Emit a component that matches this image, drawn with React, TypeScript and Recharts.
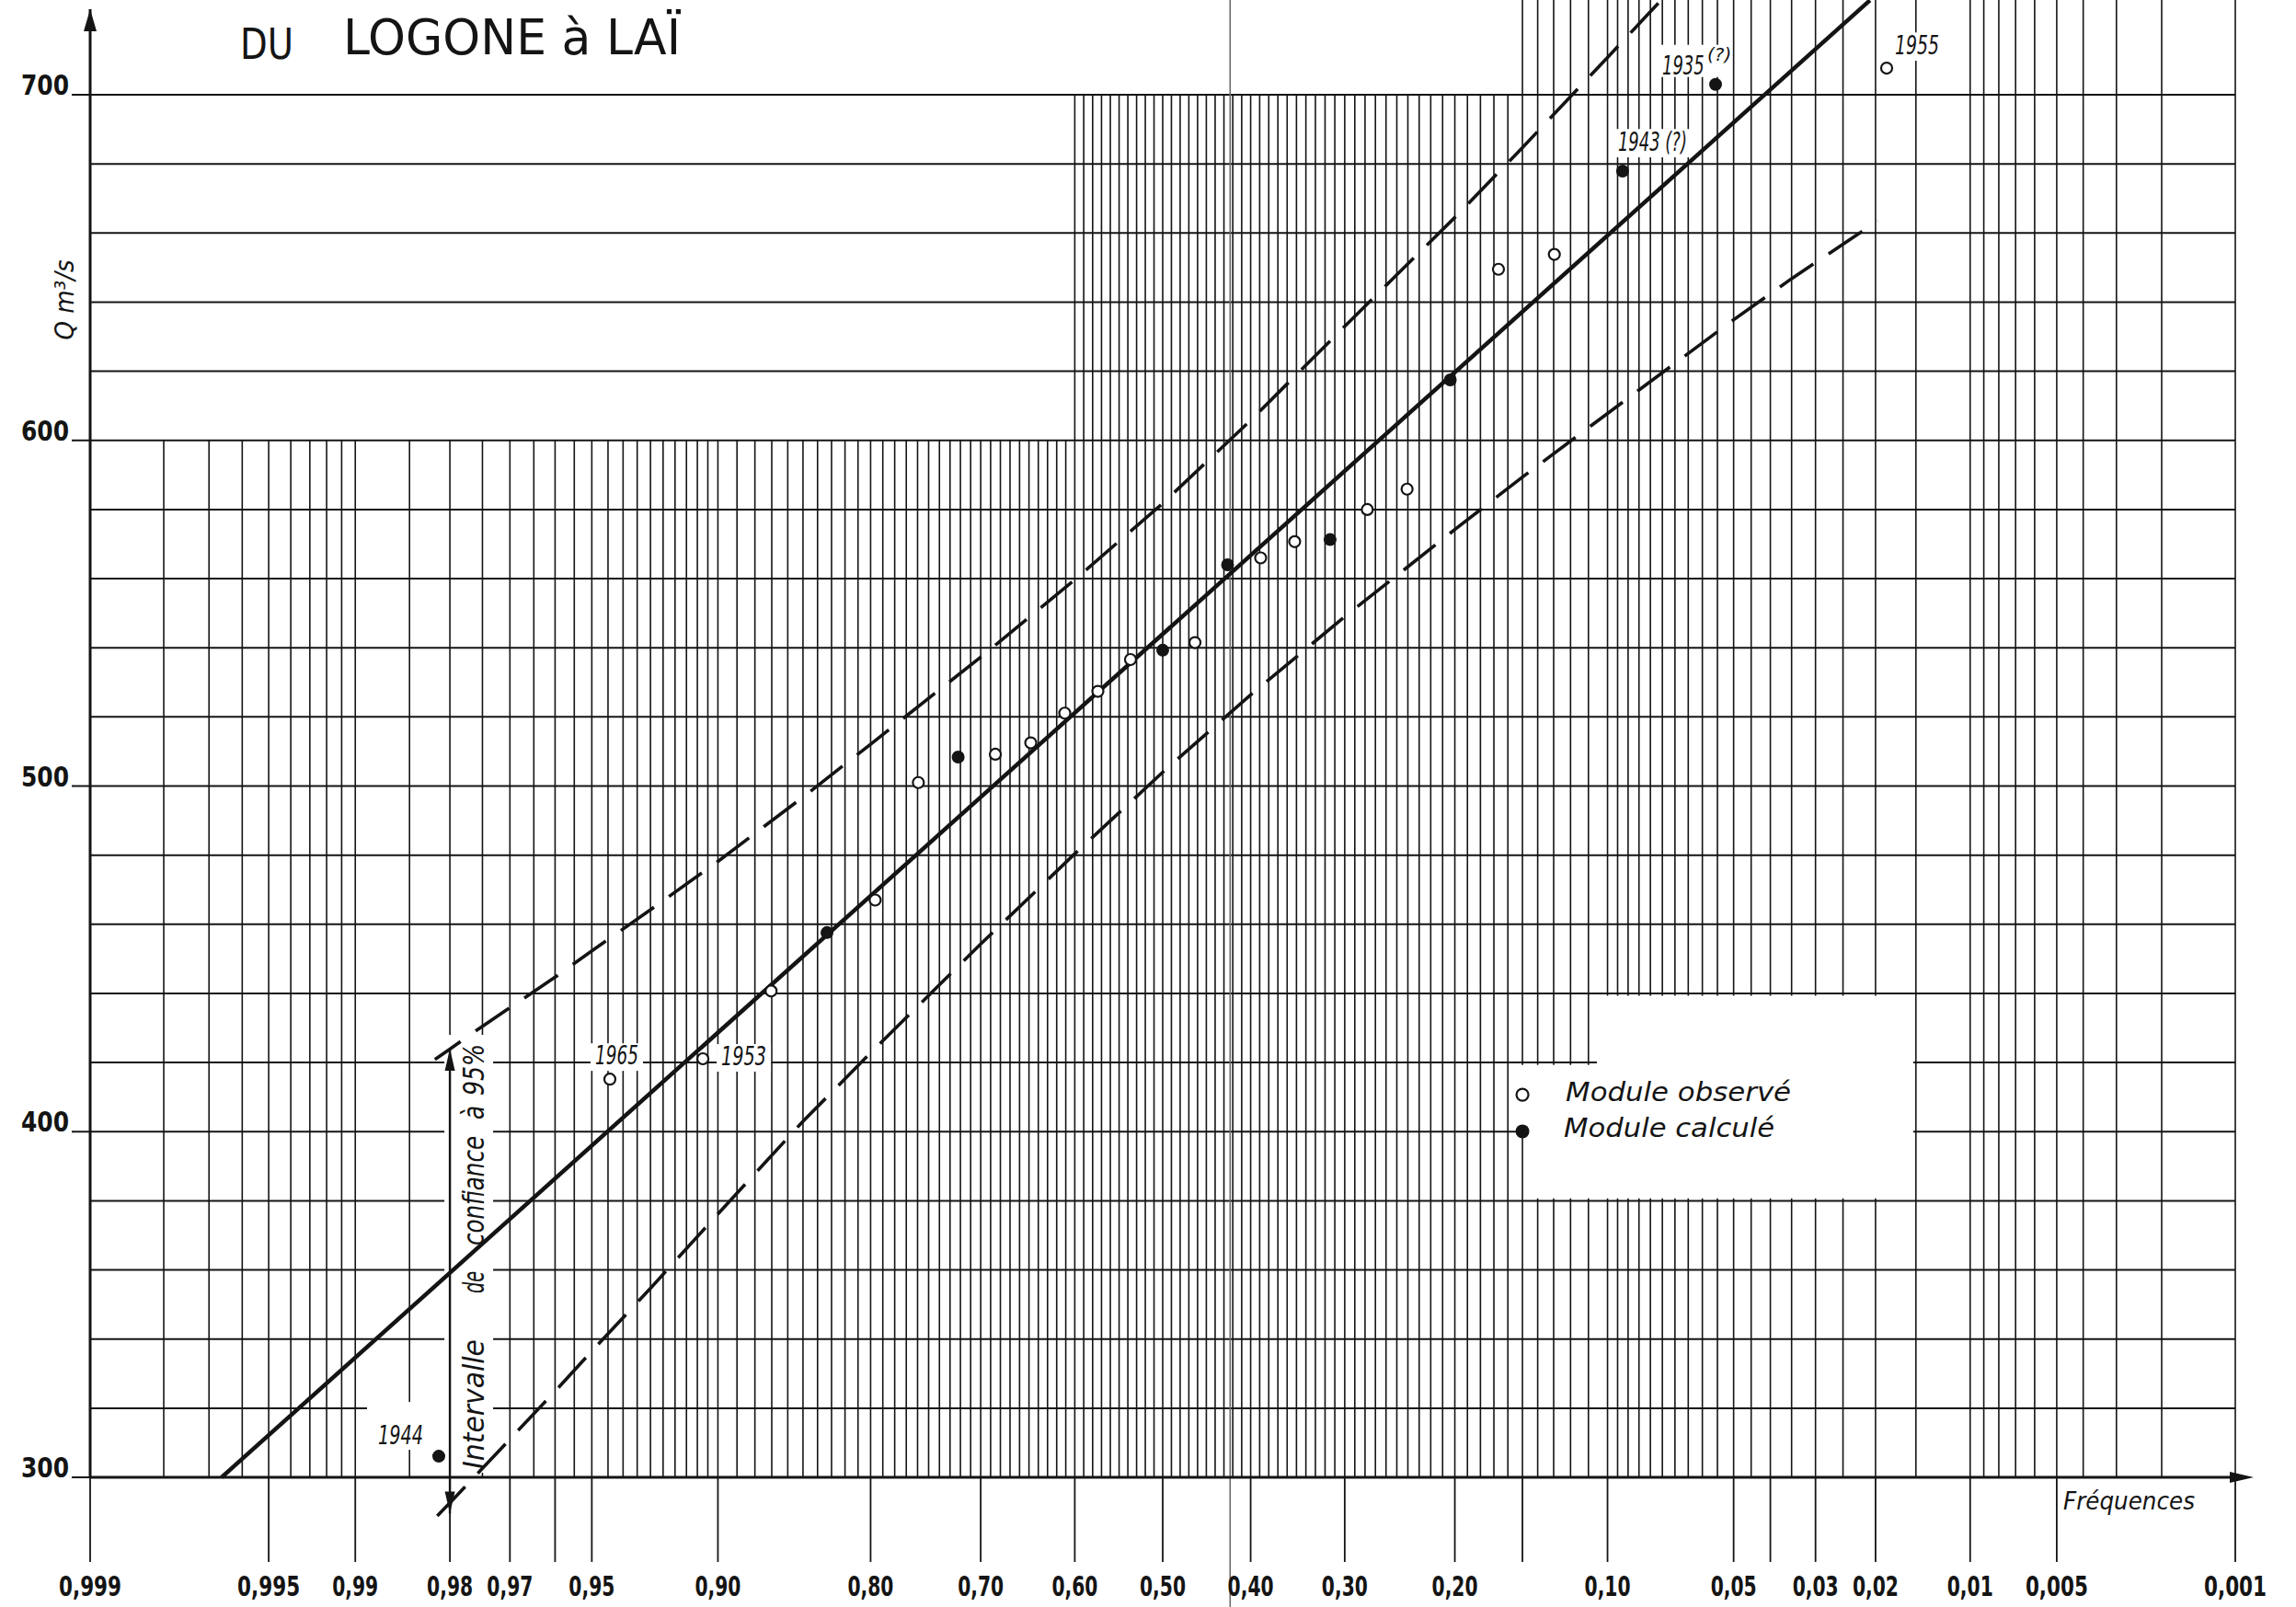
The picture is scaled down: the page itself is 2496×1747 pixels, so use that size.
import React from 'react';
import {
  ComposedChart,
  Line,
  Scatter,
  XAxis,
  YAxis,
  ReferenceLine,
  ReferenceArea,
  ReferenceDot,
} from 'recharts';

// Inverse of the standard normal CDF (Acklam) – gives the Gauss probability-paper abscissa
function probit(p: number): number {
  const a = [-39.69683028665376, 220.9460984245205, -275.9285104469687, 138.357751867269, -30.66479806614716, 2.506628277459239];
  const b = [-54.47609879822406, 161.5858368580409, -155.6989798598866, 66.80131188771972, -13.28068155288572];
  const c = [-0.007784894002430293, -0.3223964580411365, -2.400758277161838, -2.549671010243787, 4.374664141464968, 2.938163982698783];
  const d = [0.007784695709041462, 0.3224671290700398, 2.445134137142996, 3.754408661907416];
  const pl = 0.02425;
  if (p < pl) {
    const q = Math.sqrt(-2 * Math.log(p));
    return (((((c[0] * q + c[1]) * q + c[2]) * q + c[3]) * q + c[4]) * q + c[5]) / ((((d[0] * q + d[1]) * q + d[2]) * q + d[3]) * q + 1);
  }
  if (p <= 1 - pl) {
    const q = p - 0.5;
    const r = q * q;
    return ((((((a[0] * r + a[1]) * r + a[2]) * r + a[3]) * r + a[4]) * r + a[5]) * q) / (((((b[0] * r + b[1]) * r + b[2]) * r + b[3]) * r + b[4]) * r + 1);
  }
  const q = Math.sqrt(-2 * Math.log(1 - p));
  return -(((((c[0] * q + c[1]) * q + c[2]) * q + c[3]) * q + c[4]) * q + c[5]) / ((((d[0] * q + d[1]) * q + d[2]) * q + d[3]) * q + 1);
}

// frequency of exceedance -> abscissa (high frequencies on the left)
const zOf = (f: number) => probit(1 - f);

// ---------------- data : annual module of the Logone at Laï (m3/s) ----------------
const observedFreq = [0.0185, 0.1296, 0.1667, 0.2407, 0.2778, 0.3519, 0.3889, 0.463, 0.537, 0.5741, 0.6111, 0.6481, 0.6852, 0.7593, 0.7963, 0.8704, 0.9074, 0.9444];
const observedQ = [707.7, 653.8, 649.5, 585.9, 580.0, 570.7, 566.0, 541.5, 536.6, 527.4, 521.1, 512.5, 509.2, 501.0, 467.0, 440.7, 421.1, 415.2];

const calculatedFreq = [0.0556, 0.0926, 0.2037, 0.3148, 0.4259, 0.5, 0.7222, 0.8333, 0.9815];
const calculatedQ = [703.0, 677.9, 617.5, 571.3, 564.0, 539.3, 508.4, 457.6, 306.1];

// fitted Gauss law
const fitFreq = [0.99665, 0.0208];
const fitQ = [300, 727.3];

// 95 % confidence limits
const upperFreq = [0.982, 0.98, 0.975, 0.96, 0.95, 0.93, 0.9, 0.85, 0.8, 0.7, 0.6, 0.5, 0.4, 0.3, 0.2, 0.15, 0.1, 0.07];
const upperQ = [420.9, 423.9, 430.5, 444.7, 452.3, 464.2, 478.2, 496.8, 512.1, 537.3, 559.7, 581.8, 605.8, 633.0, 664.5, 684.7, 710.8, 731.6];
const lowerFreq = [0.9817, 0.98, 0.975, 0.96, 0.95, 0.93, 0.9, 0.85, 0.8, 0.7, 0.6, 0.5, 0.4, 0.3, 0.2, 0.15, 0.1, 0.05, 0.035, 0.0197];
const lowerQ = [288.8, 292.6, 302.6, 324.9, 336.5, 354.7, 376.2, 403.0, 422.8, 454.3, 480.4, 504.0, 526.4, 549.0, 574.2, 589.4, 607.8, 634.9, 646.8, 663.5];

// axis ticks
const xTickFreq = [0.999, 0.995, 0.99, 0.98, 0.97, 0.96, 0.95, 0.9, 0.8, 0.7, 0.6, 0.5, 0.4, 0.3, 0.2, 0.15, 0.1, 0.05, 0.04, 0.03, 0.02, 0.01, 0.005, 0.001];
const xTickLabel = ['0,999', '0,995', '0,99', '0,98', '0,97', '', '0,95', '0,90', '0,80', '0,70', '0,60', '0,50', '0,40', '0,30', '0,20', '', '0,10', '0,05', '', '0,03', '0,02', '0,01', '0,005', '0,001'];
const yTicks = [300, 400, 500, 600, 700];

// years written next to some points
const yearTags = [
  { series: 'observed', index: 0, text: '1955' },
  { series: 'observed', index: 16, text: '1953' },
  { series: 'observed', index: 17, text: '1965' },
  { series: 'calculated', index: 0, text: '1935' },
  { series: 'calculated', index: 1, text: '1943 (?)' },
  { series: 'calculated', index: 8, text: '1944' },
];

// ---------------- paper ruling ----------------
// vertical rulings in thousandths of frequency: [from, to, step]
const rulingRanges = [
  [999, 990, 1],
  [990, 900, 5],
  [900, 100, 10],
  [100, 10, 5],
  [10, 1, 1],
];
const rulingFreq: number[] = [];
rulingRanges.forEach(([from, to, step]) => {
  for (let v = from; v >= to; v -= step) {
    if (!rulingFreq.includes(v)) rulingFreq.push(v);
  }
});
const horizontalQ: number[] = [];
for (let q = 320; q <= 700; q += 20) horizontalQ.push(q);
const foldFreq = 0.423;

// ---------------- layout ----------------
const W = 2496;
const H = 1747;
const PLOT_LEFT = 98;
const RIGHT_MARGIN = 66;
const Q_MIN = 280;
const Q_MAX = 727.41;
const PX_PER_Q = 3.7576;
const X_AXIS_H = H - (Q_MAX - Q_MIN) * PX_PER_Q;
const AXIS_Y = (Q_MAX - 300) * PX_PER_Q;
const Z_MIN = zOf(0.999);
const Z_MAX = zOf(0.001);

const INK = '#141414';
const HAND = "'DejaVu Sans', 'Noto Sans', sans-serif";
const BOLD = "'DejaVu Sans Condensed', 'DejaVu Sans', sans-serif";

const toPoints = (fs: number[], qs: number[]) => fs.map((f, i) => ({ z: zOf(f), q: qs[i] }));
const observedPts = toPoints(observedFreq, observedQ);
const calculatedPts = toPoints(calculatedFreq, calculatedQ);
const fitPts = toPoints(fitFreq, fitQ);
const upperPts = toPoints(upperFreq, upperQ);
const lowerPts = toPoints(lowerFreq, lowerQ);
const xTickZ = xTickFreq.map(zOf);

// label placement relative to its point (px)
const tagLayout: Record<string, any> = {
  '1955': { dx: 9, dy: -15, w: 48, fs: 29 },
  '1953': { dx: 20, dy: 7, w: 49, fs: 28 },
  '1965': { dx: -16, dy: -16, w: 47, fs: 28 },
  '1935': { dx: -58, dy: -11, sx: 0.62, fs: 29, sup: { text: '(?)', dx: -9, rise: 15, fs: 20 } },
  '1943 (?)': { dx: -5, dy: -22, w: 75, fs: 29 },
  '1944': { dx: -66, dy: -13, w: 49, fs: 28, box: [-78, -59, 12, -7] },
};

const handText = (x: number, y: number, text: string, fs: number, w: number) => (
  <text
    x={x}
    y={y}
    fontSize={fs}
    fontStyle="italic"
    fontFamily={HAND}
    fill={INK}
    textLength={w}
    lengthAdjust="spacingAndGlyphs"
  >
    {text}
  </text>
);

const tagShape = (text: string) => (p: any) => {
  const lay = tagLayout[text];
  const x = p.cx + lay.dx;
  const base = p.cy + lay.dy;
  if (lay.sup) {
    // year with a raised query mark, glyphs narrowed by a horizontal scale
    const supX = p.cx + lay.sup.dx;
    const supBase = base - lay.sup.rise;
    return (
      <g>
        <rect x={x - 5} y={supBase - lay.sup.fs * 0.85} width={supX + 30 - x} height={base + 3 - (supBase - lay.sup.fs * 0.85)} fill="#fff" />
        <g transform={`translate(${x}, ${base}) scale(${lay.sx}, 1)`}>
          <text x={0} y={0} fontSize={lay.fs} fontStyle="italic" fontFamily={HAND} fill={INK}>
            {text}
          </text>
        </g>
        <text x={supX} y={supBase} fontSize={lay.sup.fs} fontStyle="italic" fontFamily={HAND} fill={INK}>
          {lay.sup.text}
        </text>
      </g>
    );
  }
  const box = lay.box
    ? { x: p.cx + lay.box[0], y: p.cy + lay.box[1], w: lay.box[2] - lay.box[0], h: lay.box[3] - lay.box[1] }
    : { x: x - 5, y: base - lay.fs * 0.82, w: lay.w + 10, h: lay.fs * 0.82 + 7 };
  return (
    <g>
      <rect x={box.x} y={box.y} width={box.w} height={box.h} fill="#fff" />
      {handText(x, base, text, lay.fs, lay.w)}
    </g>
  );
};

const OpenDot = (p: any) => <circle cx={p.cx} cy={p.cy} r={6} fill="#fff" stroke={INK} strokeWidth={2.2} />;
const FilledDot = (p: any) => <circle cx={p.cx} cy={p.cy} r={7} fill={INK} />;

const XTick = (props: any) => {
  const { x, payload } = props;
  let idx = 0;
  xTickZ.forEach((z, i) => {
    if (Math.abs(z - payload.value) < Math.abs(xTickZ[idx] - payload.value)) idx = i;
  });
  const label = xTickLabel[idx];
  return (
    <g>
      <line x1={x} x2={x} y1={AXIS_Y} y2={AXIS_Y + 92} stroke={INK} strokeWidth={1.8} />
      {label && (
        <text
          x={x}
          y={1735}
          textAnchor="middle"
          fontSize={31}
          fontWeight="bold"
          fontFamily={BOLD}
          fill={INK}
          textLength={label.length === 5 ? 68 : 50}
          lengthAdjust="spacingAndGlyphs"
        >
          {label}
        </text>
      )}
    </g>
  );
};

const YTick = (props: any) => {
  const { y, payload } = props;
  return (
    <g>
      <line x1={78} x2={PLOT_LEFT} y1={y} y2={y} stroke={INK} strokeWidth={2} />
      <text
        x={75}
        y={y}
        textAnchor="end"
        fontSize={31}
        fontWeight="bold"
        fontFamily={BOLD}
        fill={INK}
        textLength={52}
        lengthAdjust="spacingAndGlyphs"
      >
        {payload.value}
      </text>
    </g>
  );
};

// rotated caption along the 0,98 ruling
const intervalWords = [
  { t: 'Intervalle', u: 0, len: 141 },
  { t: 'de', u: 191, len: 24 },
  { t: 'confiance', u: 243, len: 119 },
  { t: 'à', u: 380, len: 15 },
  { t: '95%', u: 406, len: 56 },
];
const IntervalCaption = (p: any) => (
  <g>
    <rect x={p.cx - 6} y={p.cy - 481} width={53} height={476} fill="#fff" />
    {intervalWords.map((w) => (
      <text
        key={w.t}
        transform={`translate(${p.cx + 37}, ${p.cy - 9 - w.u}) rotate(-90)`}
        fontSize={32}
        fontStyle="italic"
        fontFamily={HAND}
        fill={INK}
        textLength={w.len}
        lengthAdjust="spacingAndGlyphs"
      >
        {w.t}
      </text>
    ))}
  </g>
);

const ArrowUp = (p: any) => <path d={`M${p.cx},${p.cy} L${p.cx - 5.5},${p.cy + 24} L${p.cx + 5.5},${p.cy + 24} Z`} fill={INK} />;
const ArrowDown = (p: any) => <path d={`M${p.cx},${p.cy} L${p.cx - 5.5},${p.cy - 24} L${p.cx + 5.5},${p.cy - 24} Z`} fill={INK} />;
const AxisArrowRight = (p: any) => (
  <path d={`M${p.cx + 20},${p.cy} L${p.cx - 6},${p.cy - 6} L${p.cx - 6},${p.cy + 6} Z`} fill={INK} />
);
const AxisArrowUp = (p: any) => <path d={`M${p.cx},${p.cy} L${p.cx - 7},${p.cy + 24} L${p.cx + 7},${p.cy + 24} Z`} fill={INK} />;

const TitleBlock = (p: any) => (
  <g fill={INK} fontFamily={HAND}>
    <text x={p.cx + 163} y={p.cy - 39} fontSize={46} textLength={58} lengthAdjust="spacingAndGlyphs">
      DU
    </text>
    <text x={p.cx + 275} y={p.cy - 44} fontSize={53} textLength={367} lengthAdjust="spacingAndGlyphs">
      LOGONE à LAÏ
    </text>
    <text
      transform={`translate(${p.cx - 18}, ${p.cy + 223}) rotate(-90)`}
      textAnchor="middle"
      fontSize={28}
      fontStyle="italic"
      textLength={87}
      lengthAdjust="spacingAndGlyphs"
    >
      Q m³/s
    </text>
  </g>
);

const FreqCaption = (p: any) => handText(p.cx - 187, p.cy + 35, 'Fréquences', 27, 143);

const LegendObserved = (p: any) => (
  <g>
    <circle cx={p.cx} cy={p.cy} r={6.5} fill="#fff" stroke={INK} strokeWidth={2.2} />
    {handText(p.cx + 47, p.cy + 7, 'Module  observé', 28, 245)}
  </g>
);
const LegendCalculated = (p: any) => (
  <g>
    <circle cx={p.cx} cy={p.cy} r={7.5} fill={INK} />
    {handText(p.cx + 45, p.cy + 6, 'Module  calculé', 28, 229)}
  </g>
);

const verticalTop = (f: number) => (f > 0.6001 ? 600 : f > 0.1501 ? 700 : Q_MAX);

export default function App() {
  return (
    <div style={{ position: 'absolute', left: 0, top: 0, width: W, height: H, background: '#fff' }}>
      <ComposedChart width={W} height={H} margin={{ top: 0, right: RIGHT_MARGIN, bottom: 0, left: 0 }}>
        <XAxis
          type="number"
          dataKey="z"
          domain={[Z_MIN, Z_MAX]}
          allowDataOverflow
          ticks={xTickZ}
          interval={0}
          tick={XTick}
          axisLine={false}
          tickLine={false}
          height={X_AXIS_H}
        />
        <YAxis
          type="number"
          dataKey="q"
          domain={[Q_MIN, Q_MAX]}
          allowDataOverflow
          ticks={yTicks}
          interval={0}
          tick={YTick}
          axisLine={false}
          tickLine={false}
          width={PLOT_LEFT}
        />

        {/* paper ruling */}
        {horizontalQ.map((q) => (
          <ReferenceLine key={`h${q}`} y={q} stroke={INK} strokeWidth={2} zIndex={-90} />
        ))}
        {rulingFreq.map((v) => {
          const f = v / 1000;
          const z = zOf(f);
          return (
            <ReferenceLine
              key={`v${v}`}
              segment={[
                { x: z, y: 300 },
                { x: z, y: verticalTop(f) },
              ]}
              stroke={INK}
              strokeWidth={1.6}
              zIndex={-90}
            />
          );
        })}
        <ReferenceLine
          segment={[
            { x: zOf(foldFreq), y: 262 },
            { x: zOf(foldFreq), y: Q_MAX },
          ]}
          ifOverflow="visible"
          stroke="#6a6a6a"
          strokeWidth={1.6}
          zIndex={-85}
        />

        {/* cleared panel of the key */}
        <ReferenceArea x1={zOf(0.1055)} x2={zOf(0.0153)} y1={419} y2={439.3} fill="#fff" fillOpacity={1} stroke="none" zIndex={-60} />
        <ReferenceArea x1={zOf(0.147)} x2={zOf(0.0153)} y1={380.7} y2={419.3} fill="#fff" fillOpacity={1} stroke="none" zIndex={-60} />
        <ReferenceArea x1={zOf(0.153)} x2={zOf(0.147)} y1={399} y2={419.3} fill="#fff" fillOpacity={1} stroke="none" zIndex={-60} />

        {/* confidence caption */}
        <ReferenceDot x={zOf(0.98)} y={300} r={0} ifOverflow="visible" shape={IntervalCaption} zIndex={-55} />

        {/* axes */}
        <ReferenceLine
          segment={[
            { x: Z_MIN, y: 300 },
            { x: Z_MAX, y: 300 },
          ]}
          ifOverflow="visible"
          stroke={INK}
          strokeWidth={3}
          zIndex={-40}
        />
        <ReferenceLine
          segment={[
            { x: Z_MIN, y: 300 },
            { x: Z_MIN, y: 724.75 },
          ]}
          ifOverflow="visible"
          stroke={INK}
          strokeWidth={3}
          zIndex={-40}
        />
        <ReferenceDot x={Z_MAX} y={300} r={0} ifOverflow="visible" shape={AxisArrowRight} zIndex={-40} />
        <ReferenceDot x={Z_MIN} y={724.75} r={0} ifOverflow="visible" shape={AxisArrowUp} zIndex={-40} />

        {/* fitted law and confidence limits */}
        <Line data={fitPts} dataKey="q" type="linear" stroke={INK} strokeWidth={4.5} dot={false} activeDot={false} isAnimationActive={false} />
        <Line data={upperPts} dataKey="q" type="linear" stroke={INK} strokeWidth={3.6} strokeDasharray="44 20" strokeDashoffset={10} dot={false} activeDot={false} isAnimationActive={false} />
        <Line data={lowerPts} dataKey="q" type="linear" stroke={INK} strokeWidth={3.6} strokeDasharray="44 20" dot={false} activeDot={false} isAnimationActive={false} />

        {/* year tags (drawn before the dots so the dots stay whole) */}
        {yearTags.map((t) => {
          const pts = t.series === 'observed' ? observedPts : calculatedPts;
          const pt = pts[t.index];
          return (
            <ReferenceDot key={t.text} x={pt.z} y={pt.q} r={0} ifOverflow="visible" shape={tagShape(t.text)} zIndex={550} />
          );
        })}

        {/* yearly modules */}
        <Scatter data={observedPts} shape={OpenDot} isAnimationActive={false} />
        <Scatter data={calculatedPts} shape={FilledDot} isAnimationActive={false} />

        {/* double arrow of the confidence interval */}
        <ReferenceLine
          segment={[
            { x: zOf(0.98), y: 289.5 },
            { x: zOf(0.98), y: 424 },
          ]}
          ifOverflow="visible"
          stroke={INK}
          strokeWidth={2.4}
          zIndex={650}
        />
        <ReferenceDot x={zOf(0.98)} y={424} r={0} ifOverflow="visible" shape={ArrowUp} zIndex={650} />
        <ReferenceDot x={zOf(0.98)} y={289.5} r={0} ifOverflow="visible" shape={ArrowDown} zIndex={650} />

        {/* key */}
        <ReferenceDot x={zOf(0.15)} y={410.7} r={0} ifOverflow="visible" shape={LegendObserved} zIndex={700} />
        <ReferenceDot x={zOf(0.15)} y={400.1} r={0} ifOverflow="visible" shape={LegendCalculated} zIndex={700} />

        {/* title, axis captions */}
        <ReferenceDot x={Z_MIN} y={700} r={0} ifOverflow="visible" shape={TitleBlock} zIndex={700} />
        <ReferenceDot x={Z_MAX} y={300} r={0} ifOverflow="visible" shape={FreqCaption} zIndex={700} />
      </ComposedChart>
    </div>
  );
}
